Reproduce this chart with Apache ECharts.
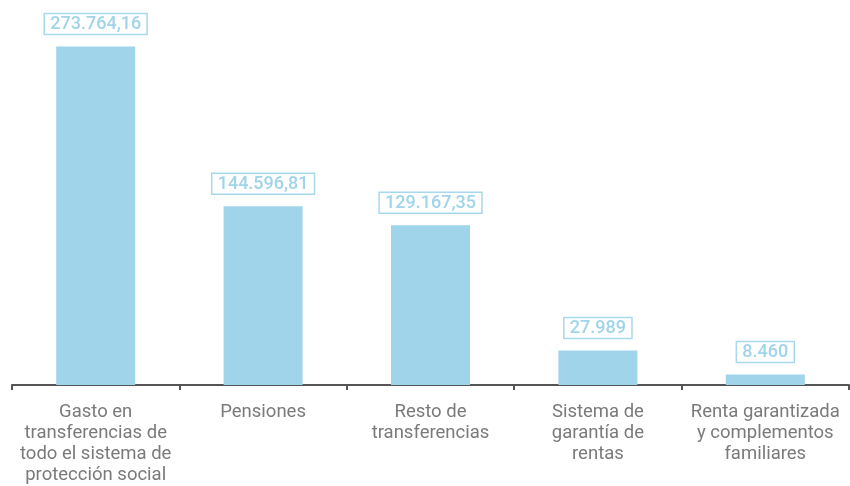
<!DOCTYPE html>
<html>
<head>
<meta charset="utf-8">
<script src="https://cdn.jsdelivr.net/npm/echarts@6/dist/echarts.min.js"></script>
<style>
html, body { margin: 0; padding: 0; background: #fff; }
#chart { width: 850px; height: 486px; }
</style>
</head>
<body>
<div id="chart"></div>
<script>
var categories = [
    'Gasto en\ntransferencias de\ntodo el sistema de\nprotección social',
    'Pensiones',
    'Resto de\ntransferencias',
    'Sistema de\ngarantía de\nrentas',
    'Renta garantizada\ny complementos\nfamiliares'
];
var values = [273764.16, 144596.81, 129167.35, 27989, 8460];
var valueLabels = ['273.764,16', '144.596,81', '129.167,35', '27.989', '8.460'];

var myChart = echarts.init(document.getElementById('chart'));

var option = {
    animation: false,
    grid: {
        left: 12,
        right: 1,
        top: 14,
        bottom: 100
    },
    xAxis: {
        type: 'category',
        data: categories,
        axisLine: { lineStyle: { color: '#555', width: 2 } },
        axisTick: { show: true, length: 5, lineStyle: { color: '#555', width: 2 } },
        axisLabel: {
            interval: 0,
            color: '#7a7a7a',
            fontFamily: 'Roboto',
            fontSize: 18.5,
            lineHeight: 21,
            margin: 17
        }
    },
    yAxis: {
        type: 'value',
        min: 0,
        max: 300000,
        show: false,
        splitLine: { show: false }
    },
    series: [{
        type: 'bar',
        data: values,
        barWidth: 79,
        itemStyle: { color: '#9fd4eb' },
        label: {
            show: true,
            position: 'top',
            distance: 12,
            formatter: function (p) { return valueLabels[p.dataIndex]; },
            color: '#9fd4eb',
            fontFamily: 'Roboto',
            fontWeight: 500,
            fontSize: 18,
            borderColor: '#a8d8ec',
            borderWidth: 1.5,
            padding: [2, 6, 1, 6]
        }
    }]
};

myChart.setOption(option);
</script>
</body>
</html>
